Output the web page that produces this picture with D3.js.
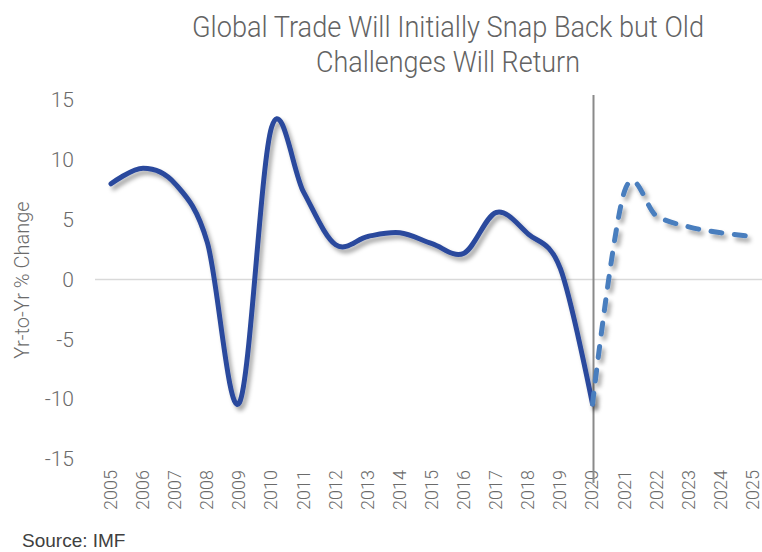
<!DOCTYPE html>
<html>
<head>
<meta charset="utf-8">
<script src="https://cdn.jsdelivr.net/npm/d3@7"></script>
<style>
  html, body { margin: 0; padding: 0; background: #fff; }
  svg { display: block; }
</style>
</head>
<body>
<svg id="chart" width="762" height="552"></svg>
<script>
// ---- data ----
const categories = ["2005","2006","2007","2008","2009","2010","2011","2012","2013","2014","2015",
                    "2016","2017","2018","2019","2020","2021","2022","2023","2024","2025"];
const actualYears = ["2005","2006","2007","2008","2009","2010","2011","2012","2013","2014","2015",
                     "2016","2017","2018","2019","2020"];
const actualValues = [8.0, 9.3, 8.0, 3.1, -10.3, 12.7, 7.3, 2.9, 3.6, 3.9, 3.0, 2.2, 5.6, 3.8, 0.9, -10.4];
const forecastYears = ["2020","2021","2022","2023","2024","2025"];
const forecastValues = [-10.4, 7.4, 5.3, 4.4, 3.9, 3.6];
const yTicks = [-15, -10, -5, 0, 5, 10, 15];
const titleLines = ["Global Trade Will Initially Snap Back but Old", "Challenges Will Return"];
const yTitle = "Yr-to-Yr % Change";
const sourceText = "Source: IMF";
const markerYear = "2020";

// ---- chart ----
const svg = d3.select("#chart");
const W = 762, H = 552;
const lightFont = "Roboto, 'Liberation Sans', Arial, sans-serif";

const x = d3.scalePoint().domain(categories).range([111, 753]);
const y = d3.scaleLinear().domain([-15, 15]).range([459, 100]);

const defs = svg.append("defs");
const f = defs.append("filter").attr("id", "shadow")
  .attr("x", "-10%").attr("y", "-10%").attr("width", "130%").attr("height", "130%");
f.append("feDropShadow").attr("dx", 3).attr("dy", 4).attr("stdDeviation", 2.2)
  .attr("flood-color", "#000").attr("flood-opacity", 0.35);

// title
svg.append("g").selectAll("text").data(titleLines).join("text")
  .attr("x", 448).attr("y", (d, i) => 37 + i * 35)
  .attr("text-anchor", "middle")
  .attr("font-family", lightFont)
  .attr("font-weight", 300)
  .attr("font-size", 29)
  .attr("fill", "#636363")
  .attr("textLength", (d, i) => i === 0 ? 512 : 264)
  .attr("lengthAdjust", "spacingAndGlyphs")
  .text(d => d);

// zero line
svg.append("line")
  .attr("x1", 95).attr("x2", W).attr("y1", y(0)).attr("y2", y(0))
  .attr("stroke", "#d9d9d9").attr("stroke-width", 1.5);

// y axis
const yAxis = d3.axisLeft(y).tickValues(yTicks).tickSize(0).tickPadding(0)
  .tickFormat(d => String(d));
const gy = svg.append("g").attr("transform", "translate(74,0)").call(yAxis);
gy.select(".domain").remove();
gy.selectAll("text")
  .attr("font-family", lightFont).attr("font-weight", 300)
  .attr("font-size", 21).attr("fill", "#6b6b6b");

// y title
svg.append("text")
  .attr("transform", "translate(29,280) rotate(-90)")
  .attr("text-anchor", "middle")
  .attr("font-family", lightFont).attr("font-weight", 300)
  .attr("font-size", 20).attr("fill", "#6b6b6b")
  .text(yTitle);

// x axis
const xAxis = d3.axisBottom(x).tickSize(0).tickPadding(0);
const gx = svg.append("g").attr("transform", "translate(0,470)").call(xAxis);
gx.select(".domain").remove();
gx.selectAll("text")
  .attr("x", 0).attr("y", 0).attr("dy", "0.3em")
  .attr("transform", "rotate(-90)")
  .style("text-anchor", "end")
  .attr("font-family", lightFont).attr("font-weight", 300)
  .attr("font-size", 18).attr("fill", "#6b6b6b");

// vertical marker line at 2020
svg.append("line")
  .attr("x1", x(markerYear) + 1).attr("x2", x(markerYear) + 1)
  .attr("y1", 95).attr("y2", 483)
  .attr("stroke", "#8a8a8a").attr("stroke-width", 2);

// lines
const line = d3.line().curve(d3.curveCatmullRom.alpha(0))
  .x(d => x(d[0])).y(d => y(d[1]));

svg.append("path")
  .datum(actualYears.map((yr, i) => [yr, actualValues[i]]))
  .attr("d", line)
  .attr("fill", "none")
  .attr("stroke", "#2C4A9D").attr("stroke-width", 5)
  .attr("stroke-linecap", "round").attr("stroke-linejoin", "round")
  .attr("filter", "url(#shadow)");

const dashed = svg.append("path")
  .datum(forecastYears.map((yr, i) => [yr, forecastValues[i]]))
  .attr("d", line)
  .attr("fill", "none")
  .attr("stroke", "#4A7EBE").attr("stroke-width", 5)
  .attr("stroke-linecap", "round").attr("stroke-linejoin", "round")
  .attr("filter", "url(#shadow)");
// dash pattern that ends in a short gap (as in the reference)
const L = dashed.node().getTotalLength();
const dashLen = 11, endGap = 8;
const n = Math.round((L - endGap - dashLen) / 23);
const period = (L - endGap - dashLen) / n;
dashed.attr("stroke-dasharray", `${dashLen},${(period - dashLen).toFixed(2)}`);

// source
svg.append("text")
  .attr("x", 22).attr("y", 547)
  .attr("font-family", "'Liberation Sans', Arial, sans-serif")
  .attr("font-size", 19).attr("fill", "#404040")
  .text(sourceText);
</script>
</body>
</html>
